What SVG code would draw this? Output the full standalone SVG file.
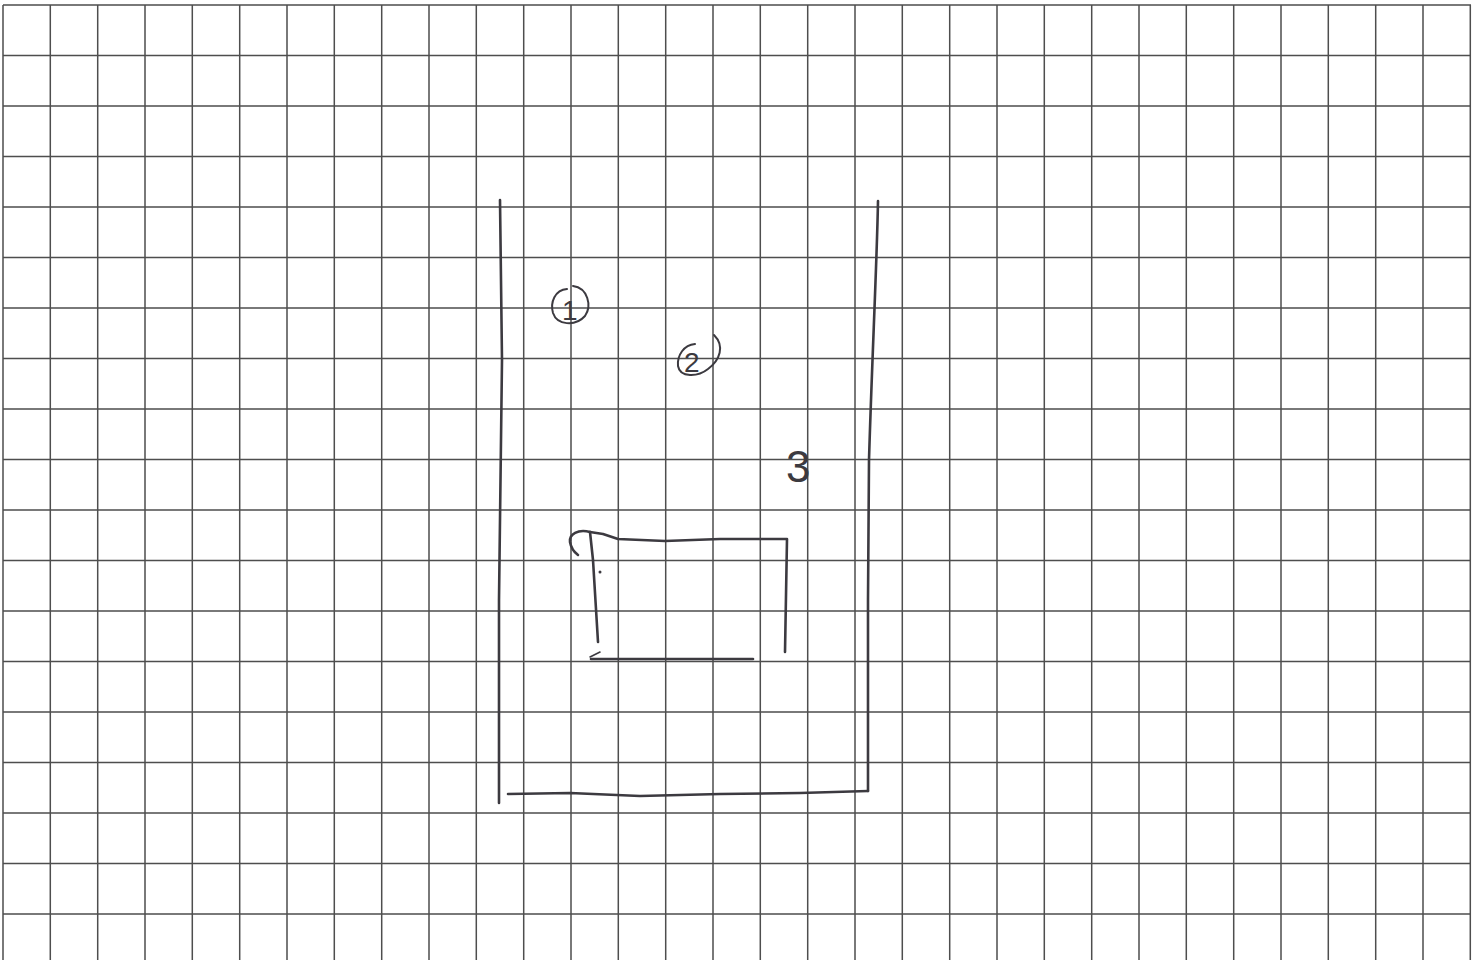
<svg xmlns="http://www.w3.org/2000/svg" width="1477" height="960" viewBox="0 0 1477 960">
<style>
.g{stroke:#4e4e4e;stroke-width:1.5;fill:none}
.p{stroke:#3c3a40;stroke-width:2.6;fill:none;stroke-linecap:round;stroke-linejoin:round}
.t{font-family:"Liberation Sans",sans-serif;fill:#3c3a40}
</style>
<rect width="1477" height="960" fill="#ffffff"/>
<g id="grid">
<path class="g" d="M3 5H1471M3 55.5H1471M3 106H1471M3 156.5H1471M3 207H1471M3 257.5H1471M3 308H1471M3 358.5H1471M3 409H1471M3 459.5H1471M3 510H1471M3 560.5H1471M3 611H1471M3 661.5H1471M3 712H1471M3 762.5H1471M3 813H1471M3 863.5H1471M3 914H1471"/>
<path class="g" d="M3 5V960M50.3 5V960M97.7 5V960M145 5V960M192.3 5V960M239.7 5V960M287 5V960M334.3 5V960M381.7 5V960M429 5V960M476.3 5V960M523.7 5V960M571 5V960M618.3 5V960M665.7 5V960M713 5V960M760.3 5V960M807.7 5V960M855 5V960M902.3 5V960M949.7 5V960M997 5V960M1044.3 5V960M1091.7 5V960M1139 5V960M1186.3 5V960M1233.7 5V960M1281 5V960M1328.3 5V960M1375.7 5V960M1423 5V960M1470.3 5V960"/>
</g>
<g id="outer">
<path class="p" d="M500 200 L502 360 L499 600 L499 803"/>
<path class="p" d="M878 201 C877 260 872 360 869 460 L868 600 L868 791"/>
<path class="p" d="M508 794 L570 793 L640 796 L720 794 L800 793 L868 791"/>
</g>
<g id="inner">
<path class="p" d="M598 642 L593 560 L590 532"/>
<path class="p" d="M590 532 C578 529 569 534 570 542 C571 548 574 552 578 555"/>
<path class="p" d="M590 532 L603 534 L618 539 L665 541 L720 539 L787 539 L785 652"/>
<path class="p" d="M591 659 L753 659"/>
<path class="p" d="M590 657 L600 652" style="stroke-width:1.6"/>
<circle cx="600" cy="572" r="1.5" fill="#3c3a40"/>
</g>
<g id="label1">
<path class="p" d="M567 289 C555 290 550 302 553 313 C557 325 575 327 585 316 C592 306 588 288 573 286" style="stroke-width:2"/>
<text class="t" x="562" y="320" font-size="28">1</text>
</g>
<g id="label2">
<path class="p" d="M695 344 C684 345 677 355 678 366 C680 378 698 377 708 369 C720 360 725 346 714 335" style="stroke-width:2"/>
<text class="t" x="684" y="372" font-size="28">2</text>
</g>
<g id="label3">
<text class="t" x="786" y="482" font-size="44">3</text>
</g>
</svg>
